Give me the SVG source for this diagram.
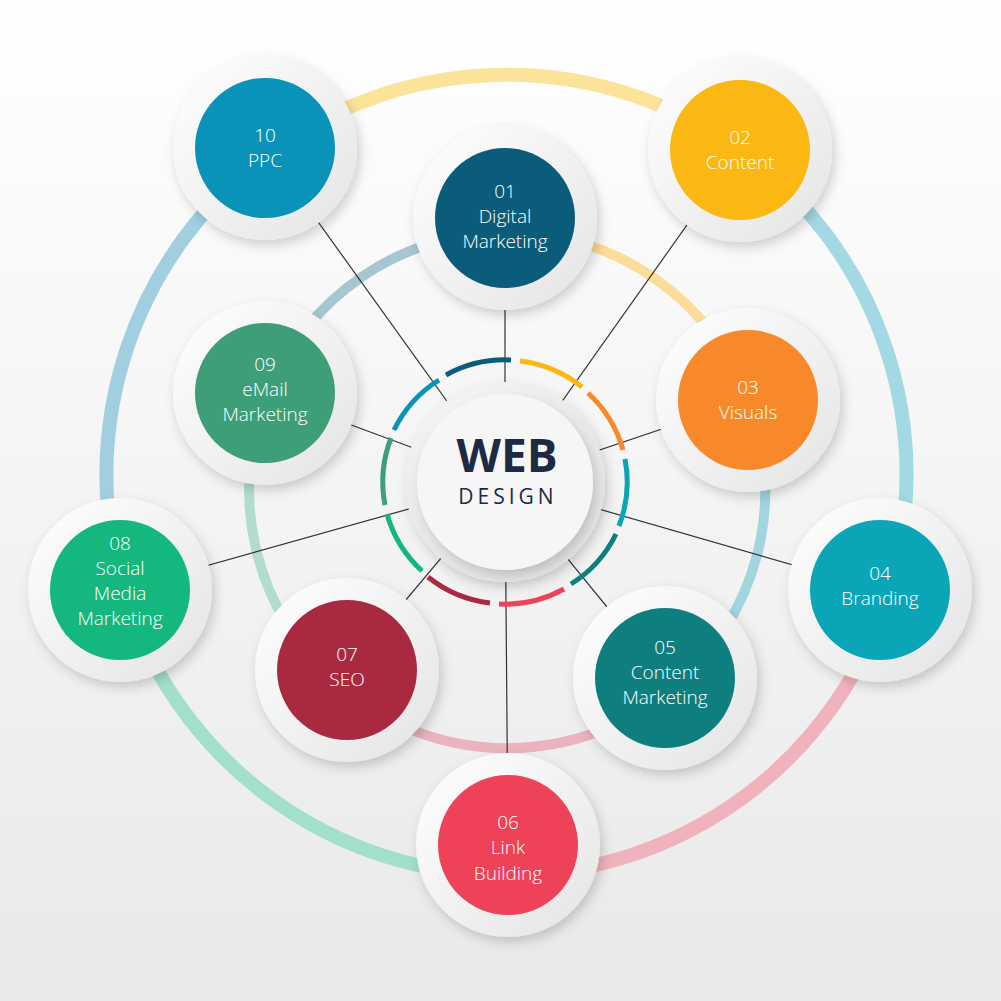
<svg xmlns="http://www.w3.org/2000/svg" width="1001" height="1001" viewBox="0 0 1001 1001">
<defs>
<linearGradient id="bg" x1="0" y1="0" x2="0" y2="1"><stop offset="0" stop-color="#ffffff"/><stop offset="1" stop-color="#e9e9e9"/></linearGradient>
<linearGradient id="ring" x1="0" y1="0" x2="1" y2="1"><stop offset="0" stop-color="#ffffff"/><stop offset="1" stop-color="#e4e4e4"/></linearGradient>
<radialGradient id="ctr" cx="0.4" cy="0.35" r="0.7"><stop offset="0" stop-color="#ffffff"/><stop offset="1" stop-color="#e2e2e2"/></radialGradient>
<filter id="sh" x="-30%" y="-30%" width="160%" height="160%"><feDropShadow dx="3" dy="5" stdDeviation="6" flood-color="#000" flood-opacity="0.18"/></filter>
</defs>
<style>
.o{fill:none;stroke-width:14}
.m{fill:none;stroke-width:10}
.i{fill:none;stroke-width:5}
.ln{stroke:#333;stroke-width:1.2}
.wr{fill:url(#ring);filter:url(#sh)}
.t{fill:#fff;font-family:"Open Sans",sans-serif;font-size:19px;font-weight:300;text-anchor:middle}
</style>
<rect width="1001" height="1001" fill="url(#bg)"/>
<g id="rings">
<path class="o" stroke="#fbe39a" d="M269,153 A400,400 0 0 1 740,150"/>
<path class="o" stroke="#a3d9e2" d="M740,150 A400,400 0 0 1 889,592"/>
<path class="o" stroke="#f0b3be" d="M889,592 A400,400 0 0 1 507,875"/>
<path class="o" stroke="#a2e0c9" d="M507,875 A400,400 0 0 1 123,589"/>
<path class="o" stroke="#a1cfe0" d="M123,589 A400,400 0 0 1 269,153"/>
<path class="m" stroke="#fbdc98" d="M507,232 A258,258 0 0 1 749,400"/>
<path class="m" stroke="#a3d5df" d="M749,400 A258,258 0 0 1 673,688"/>
<path class="m" stroke="#eab3bf" d="M673,688 A258,258 0 0 1 336,683"/>
<path class="m" stroke="#b2dccb" d="M336,683 A258,258 0 0 1 268,393"/>
<path class="m" stroke="#a6c6d2" d="M268,393 A258,258 0 0 1 507,232"/>
</g>
<g id="connectors">
<line class="ln" x1="505" y1="482" x2="265" y2="148"/>
<line class="ln" x1="505" y1="482" x2="740" y2="150"/>
<line class="ln" x1="505" y1="482" x2="505" y2="218"/>
<line class="ln" x1="505" y1="482" x2="265" y2="393"/>
<line class="ln" x1="505" y1="482" x2="748" y2="400"/>
<line class="ln" x1="505" y1="482" x2="120" y2="590"/>
<line class="ln" x1="505" y1="482" x2="880" y2="590"/>
<line class="ln" x1="505" y1="482" x2="347" y2="670"/>
<line class="ln" x1="505" y1="482" x2="665" y2="678"/>
<line class="ln" x1="505" y1="482" x2="508" y2="845"/>
</g>
<g id="inner-ring">
<path class="i" stroke="#0b5c7a" d="M446,375 A122,122 0 0 1 511,360"/>
<path class="i" stroke="#fbb712" d="M520,361 A122,122 0 0 1 582,387"/>
<path class="i" stroke="#f7892a" d="M588,393 A122,122 0 0 1 623,450"/>
<path class="i" stroke="#0aa6b8" d="M625,459 A122,122 0 0 1 619,526"/>
<path class="i" stroke="#0f7e7e" d="M616,534 A122,122 0 0 1 571,584"/>
<path class="i" stroke="#ee4259" d="M564,589 A122,122 0 0 1 499,604"/>
<path class="i" stroke="#a92a40" d="M490,603 A122,122 0 0 1 428,577"/>
<path class="i" stroke="#14b87e" d="M422,571 A122,122 0 0 1 387,514"/>
<path class="i" stroke="#3d9e78" d="M385,505 A122,122 0 0 1 391,438"/>
<path class="i" stroke="#0a93b8" d="M394,430 A122,122 0 0 1 439,380"/>
</g>
<g id="center">
<circle cx="505" cy="482" r="100" fill="url(#ctr)" filter="url(#sh)"/>
<circle cx="505" cy="482" r="88" fill="#f6f6f6" filter="url(#sh)"/>
<text x="507" y="472" font-family="'Open Sans',sans-serif" font-weight="bold" font-size="46" fill="#1c2a44" text-anchor="middle">WEB</text>
<text x="508" y="504" font-family="'Open Sans',sans-serif" font-size="21" letter-spacing="4" fill="#1c2a44" text-anchor="middle">DESIGN</text>
</g>
<g id="n10"><circle class="wr" cx="265" cy="148" r="92"/><circle cx="265" cy="148" r="70" fill="#0a93b8"/><text class="t" x="265" y="142">10</text><text class="t" x="265" y="167">PPC</text></g>
<g id="n02"><circle class="wr" cx="740" cy="150" r="92"/><circle cx="740" cy="150" r="70" fill="#fbb712"/><text class="t" x="740" y="144">02</text><text class="t" x="740" y="169">Content</text></g>
<g id="n01"><circle class="wr" cx="505" cy="218" r="92"/><circle cx="505" cy="218" r="70" fill="#0b5c7a"/><text class="t" x="505" y="198">01</text><text class="t" x="505" y="223">Digital</text><text class="t" x="505" y="248">Marketing</text></g>
<g id="n09"><circle class="wr" cx="265" cy="393" r="92"/><circle cx="265" cy="393" r="70" fill="#3d9e78"/><text class="t" x="265" y="371">09</text><text class="t" x="265" y="396">eMail</text><text class="t" x="265" y="421">Marketing</text></g>
<g id="n03"><circle class="wr" cx="748" cy="400" r="92"/><circle cx="748" cy="400" r="70" fill="#f7892a"/><text class="t" x="748" y="394">03</text><text class="t" x="748" y="419">Visuals</text></g>
<g id="n08"><circle class="wr" cx="120" cy="590" r="92"/><circle cx="120" cy="590" r="70" fill="#14b87e"/><text class="t" x="120" y="550">08</text><text class="t" x="120" y="575">Social</text><text class="t" x="120" y="600">Media</text><text class="t" x="120" y="625">Marketing</text></g>
<g id="n04"><circle class="wr" cx="880" cy="590" r="92"/><circle cx="880" cy="590" r="70" fill="#0aa6b8"/><text class="t" x="880" y="580">04</text><text class="t" x="880" y="605">Branding</text></g>
<g id="n07"><circle class="wr" cx="347" cy="670" r="92"/><circle cx="347" cy="670" r="70" fill="#a92a40"/><text class="t" x="347" y="661">07</text><text class="t" x="347" y="686">SEO</text></g>
<g id="n05"><circle class="wr" cx="665" cy="678" r="92"/><circle cx="665" cy="678" r="70" fill="#0f7e7e"/><text class="t" x="665" y="654">05</text><text class="t" x="665" y="679">Content</text><text class="t" x="665" y="704">Marketing</text></g>
<g id="n06"><circle class="wr" cx="508" cy="845" r="92"/><circle cx="508" cy="845" r="70" fill="#ee4259"/><text class="t" x="508" y="829">06</text><text class="t" x="508" y="854">Link</text><text class="t" x="508" y="880">Building</text></g>
</svg>
